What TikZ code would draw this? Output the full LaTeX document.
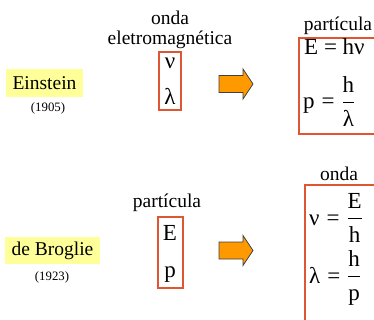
\documentclass[tikz,border=0pt]{standalone}
\usepackage{amsmath}
\usepackage{fontspec}
\setmainfont{Liberation Serif}
\usetikzlibrary{positioning}

\definecolor{boxred}{RGB}{224,86,50}
\definecolor{hilite}{RGB}{255,255,153}
\definecolor{arroworange}{RGB}{255,153,0}

\begin{document}
\begin{tikzpicture}[x=1pt,y=-1pt,
  namebox/.style={fill=hilite,inner sep=0pt,font=\fontsize{19.5}{22}\selectfont},
  yearlbl/.style={inner sep=0pt,font=\fontsize{12.8}{15}\selectfont},
  kindlbl/.style={inner sep=0pt,align=center,font=\fontsize{19.5}{20.5}\selectfont},
  qtybox/.style={draw=boxred,line width=1.1pt,inner sep=0pt},
  qty/.style={inner sep=0pt,font=\fontsize{23}{26}\selectfont},
  convarrow/.pic={\draw[draw=black!75,fill=arroworange,line width=0.8pt,line join=miter]
    (-17,-8.5) -- (7,-8.5) -- (7,-15) -- (17,0) -- (7,15) -- (7,8.5) -- (-17,8.5) -- cycle;}]
\clip (0,0) rectangle (374,320);
% Einstein: onda -> particula
\node[namebox,minimum width=77pt,minimum height=28pt] (einstein) at (44.5,83) {Einstein};
\node[yearlbl] (einyear) at (48,108) {(1905)};
\node[kindlbl] (emlbl) at (170,30) {onda\\eletromagnética};
\node[qtybox,minimum width=22pt,minimum height=58pt] (wavebox) at (170,81) {};
\node[qty] (qnu) at (170,63) {ν};
\node[qty] (qlambda) at (170,96) {λ};
\pic (arrowA) at (236,84) {convarrow};
\node[kindlbl] (partlbl) at (338,25.5) {partícula};
\node[qtybox,minimum width=84pt,minimum height=96pt] (partbox) at (341,86) {};
\node[qty,anchor=base west] (eqE) at (304,55) {E = hν};
\node[qty,anchor=base west] (eqp) at (303,109) {$\text{p}\mathrel{\text{=}}\dfrac{\text{h}}{\text{λ}}$};
% de Broglie: particula -> onda
\node[namebox,minimum width=95pt,minimum height=27pt] (broglie) at (52.5,250.5) {de Broglie};
\node[yearlbl] (brogyear) at (52,277) {(1923)};
\node[kindlbl] (partlbl2) at (167,203) {partícula};
\node[qtybox,minimum width=25pt,minimum height=71pt] (partbox2) at (170.5,252.5) {};
\node[qty] (qE) at (170,232.5) {E};
\node[qty] (qp) at (170,275) {p};
\pic (arrowB) at (236,250.5) {convarrow};
\node[kindlbl] (ondalbl) at (339,174) {onda};
\node[qtybox,minimum width=84pt,minimum height=160pt] (ondabox) at (347,265) {};
\node[qty,anchor=base west] (eqnu) at (309,225) {$\text{ν}\mathrel{\text{=}}\dfrac{\text{E}}{\text{h}}$};
\node[qty,anchor=base west] (eqlambda) at (309,283) {$\text{λ}\mathrel{\text{=}}\dfrac{\text{h}}{\text{p}}$};
\end{tikzpicture}
\end{document}
